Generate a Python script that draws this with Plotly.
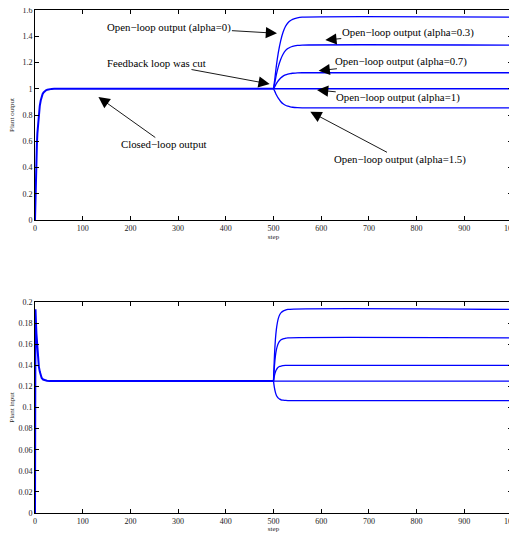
import plotly.graph_objects as go
from plotly.subplots import make_subplots

# ---- data ----
cl_out_steps = [0, 1, 2, 3, 4, 5, 6, 7, 8, 9, 10, 12, 14, 16, 18, 20, 23, 26, 30, 35, 40, 500]
cl_out_vals = [0, 0.2, 0.36, 0.48, 0.58, 0.66, 0.72, 0.77, 0.81, 0.845, 0.87, 0.91, 0.94, 0.96,
               0.972, 0.98, 0.988, 0.993, 0.997, 0.999, 1.0, 1.0]

ol_out_steps = [500, 503, 506, 510, 515, 520, 525, 530, 535, 540, 550, 560, 1000]
ol_out_a0 = [1, 1.082, 1.174, 1.273, 1.365, 1.43, 1.474, 1.501, 1.518, 1.529, 1.540, 1.545, 1.545]
ol_out_a03 = [1, 1.05, 1.107, 1.167, 1.223, 1.263, 1.290, 1.306, 1.316, 1.323, 1.330, 1.333, 1.333]
ol_out_a07 = [1, 1.018, 1.039, 1.061, 1.082, 1.096, 1.106, 1.112, 1.116, 1.118, 1.121, 1.122, 1.122]
ol_out_a1 = [1, 1, 1, 1, 1, 1, 1, 1, 1, 1, 1, 1, 1]
ol_out_a15 = [1, 0.978, 0.954, 0.928, 0.903, 0.885, 0.874, 0.867, 0.862, 0.859, 0.856, 0.855, 0.855]

cl_in_steps = [0, 1, 2, 3, 4, 5, 6, 7, 8, 10, 12, 14, 17, 20, 25, 30, 40, 500]
cl_in_vals = [0, 0.193, 0.181, 0.170, 0.161, 0.154, 0.148, 0.143, 0.139, 0.134, 0.130, 0.128,
              0.1265, 0.1258, 0.1253, 0.125, 0.125, 0.125]

ol_in_steps = [500, 502, 504, 506, 508, 510, 513, 516, 520, 525, 530, 1000]
ol_in_a0 = [0.125, 0.1488, 0.1644, 0.174, 0.1801, 0.1842, 0.1879, 0.1899, 0.1913, 0.1923, 0.193, 0.193]
ol_in_a03 = [0.125, 0.1394, 0.1488, 0.1545, 0.1582, 0.1607, 0.1629, 0.1642, 0.165, 0.1656, 0.166, 0.166]
ol_in_a07 = [0.125, 0.1303, 0.1337, 0.1358, 0.1372, 0.1381, 0.1389, 0.1393, 0.1396, 0.1399, 0.14, 0.14]
ol_in_a1 = [0.125] * 12
ol_in_a15 = [0.125, 0.1185, 0.1143, 0.1117, 0.11, 0.1089, 0.1079, 0.1073, 0.107, 0.1067, 0.1065, 0.1065]

x_ticks = [0, 100, 200, 300, 400, 500, 600, 700, 800, 900, 1000]

BLUE = "#0000ff"
FONT = "Liberation Serif, Times New Roman, serif"

fig = make_subplots(rows=2, cols=1)

fig.add_trace(go.Scatter(x=cl_out_steps, y=cl_out_vals, mode="lines",
                         line=dict(color=BLUE, width=2)), row=1, col=1)
for vals in [ol_out_a0, ol_out_a03, ol_out_a07, ol_out_a1, ol_out_a15]:
    fig.add_trace(go.Scatter(x=ol_out_steps, y=vals, mode="lines",
                             line=dict(color=BLUE, width=1.3, shape="spline", smoothing=0.8)),
                  row=1, col=1)

fig.add_trace(go.Scatter(x=cl_in_steps, y=cl_in_vals, mode="lines",
                         line=dict(color=BLUE, width=2)), row=2, col=1)
for vals in [ol_in_a0, ol_in_a03, ol_in_a07, ol_in_a1, ol_in_a15]:
    fig.add_trace(go.Scatter(x=ol_in_steps, y=vals, mode="lines",
                             line=dict(color=BLUE, width=1.3, shape="spline", smoothing=0.8)),
                  row=2, col=1)

axis_common = dict(showline=True, linecolor="black", linewidth=1, mirror="ticks",
                   ticks="inside", ticklen=4, tickcolor="black", showgrid=False,
                   zeroline=False, automargin=False, ticklabeloverflow="allow",
                   tickfont=dict(family=FONT, size=8, color="#222"))

fig.update_xaxes(range=[0, 1000], tickvals=x_ticks,
                 title=dict(text="step", font=dict(family=FONT, size=7, color="#222"), standoff=2),
                 **axis_common)
fig.update_yaxes(**axis_common)
fig.update_yaxes(range=[0, 1.6], dtick=0.2, row=1, col=1,
                 title=dict(text="Plant output", font=dict(family=FONT, size=7, color="#222"), standoff=6))
fig.update_yaxes(range=[0, 0.2], dtick=0.02, row=2, col=1,
                 title=dict(text="Plant input", font=dict(family=FONT, size=7, color="#222"), standoff=6))

fig.update_layout(
    xaxis=dict(domain=[0, 1]),
    yaxis=dict(domain=[0.5825, 1]),
    xaxis2=dict(domain=[0, 1]),
    yaxis2=dict(domain=[0, 0.4195]),
)

annots = [
    ("Open\u2212loop output (alpha=0)", 507.4, 1.4225, 281.8, 1.4705),
    ("Feedback loop was cut", 492, 1.036, 254.6, 1.196),
    ("Closed\u2212loop output", 133, 0.937, 271.3, 0.579),
    ("Open\u2212loop output (alpha=0.3)", 608.6, 1.371, 781.5, 1.430),
    ("Open\u2212loop output (alpha=0.7)", 594.6, 1.1375, 767.9, 1.206),
    ("Open\u2212loop output (alpha=1)", 591.2, 0.990, 761.5, 0.932),
    ("Open\u2212loop output (alpha=1.5)", 577.2, 0.825, 765.7, 0.4625),
]
for text, x, y, ax, ay in annots:
    fig.add_annotation(text=text, x=x, y=y, ax=ax, ay=ay, xref="x", yref="y",
                       axref="x", ayref="y", showarrow=True, arrowhead=2, arrowsize=2.5,
                       arrowwidth=0.9, arrowcolor="black", borderpad=0,
                       font=dict(family=FONT, size=10.8, color="black"))

# the page body adds an 8px margin, so the figure is sized/offset to compensate
fig.update_layout(width=509, height=525, showlegend=False,
                  margin=dict(l=27, r=5, t=2, b=20),
                  plot_bgcolor="white", paper_bgcolor="white")

fig.write_html("out.html")
